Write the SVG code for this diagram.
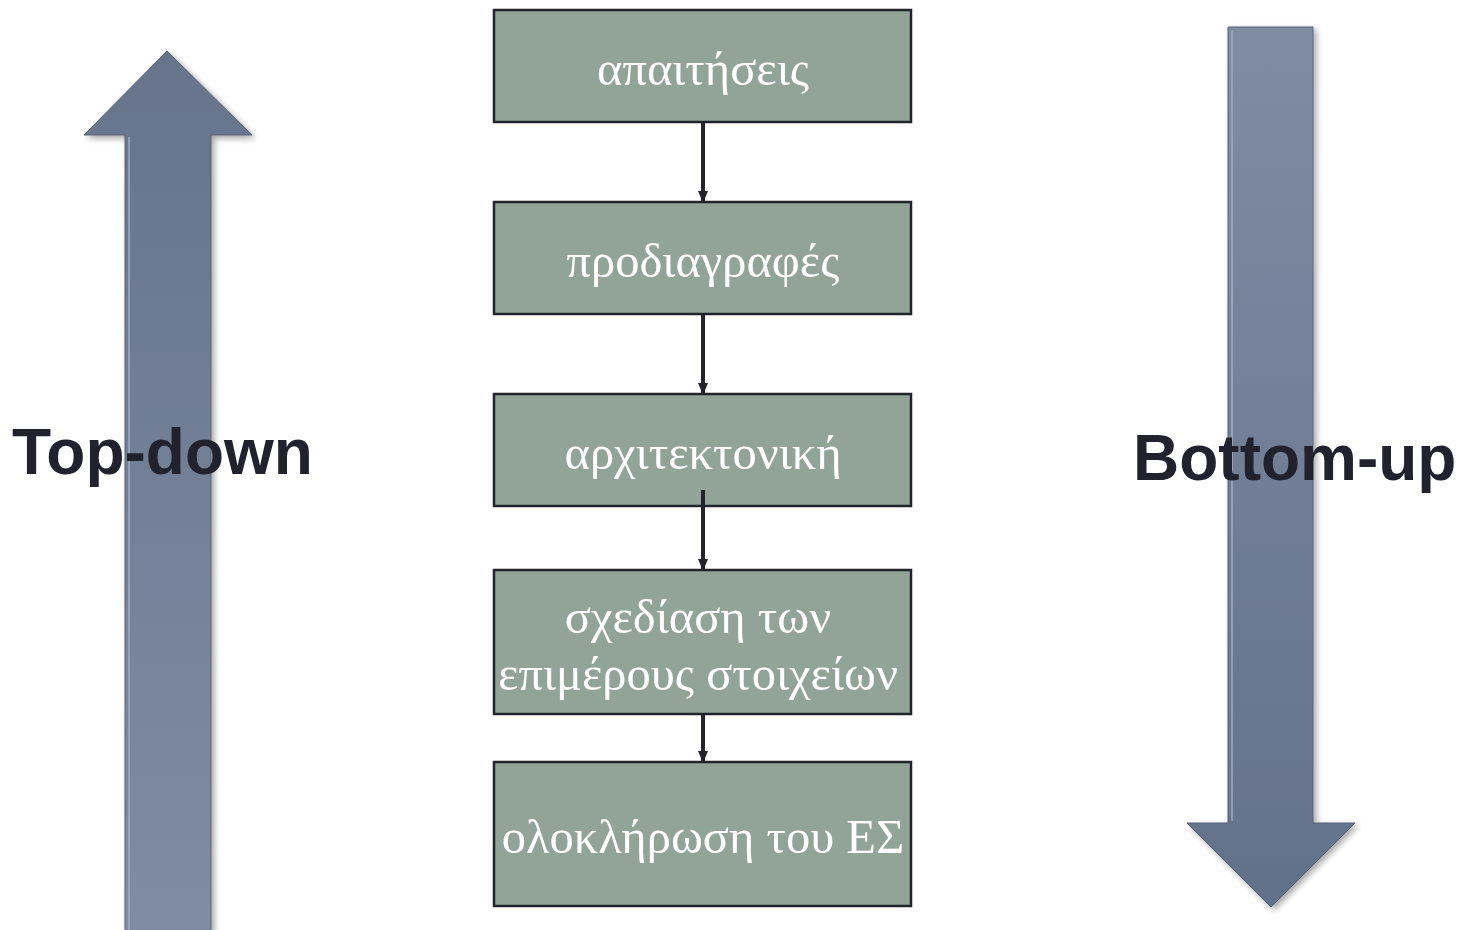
<svg xmlns="http://www.w3.org/2000/svg" width="1458" height="930" viewBox="0 0 1458 930">
<style>
.box{fill:#92a398;stroke:#23232b;stroke-width:2.5}
.lbl{font-family:"Liberation Serif","Times New Roman",serif;font-size:48.5px;fill:#ffffff;text-anchor:middle}
.side{font-family:"Liberation Sans",Arial,sans-serif;font-size:64px;font-weight:bold;fill:#22222e}
.conn{stroke:#23232b;stroke-width:4;fill:none}
</style>
<defs>
<linearGradient id="gUp" x1="0" y1="0" x2="0" y2="1">
<stop offset="0" stop-color="#66748c"/><stop offset="1" stop-color="#7f8ca1"/>
</linearGradient>
<linearGradient id="gDown" x1="0" y1="0" x2="0" y2="1">
<stop offset="0" stop-color="#7f8ca1"/><stop offset="1" stop-color="#63718a"/>
</linearGradient>
<filter id="sh" x="-20%" y="-5%" width="140%" height="110%">
<feGaussianBlur in="SourceAlpha" stdDeviation="3"/>
<feOffset dx="3" dy="3" result="b"/>
<feComponentTransfer><feFuncA type="linear" slope="0.35"/></feComponentTransfer>
<feMerge><feMergeNode/><feMergeNode in="SourceGraphic"/></feMerge>
</filter>
<marker id="ah" markerWidth="12" markerHeight="10" refX="10" refY="5" orient="auto" markerUnits="userSpaceOnUse">
<path d="M0,0 L12,5 L0,10 Z" fill="#23232b"/>
</marker>
</defs>

<g id="arrow-topdown">
<path d="M167,51 L252,135 L211,135 L211,932 L125,932 L125,135 L84,135 Z" fill="url(#gUp)" stroke="#56627a" stroke-width="1" filter="url(#sh)"/>
<path d="M129,137 L129,930" stroke="#a5b1c4" stroke-width="2" opacity="0.7"/>
</g>
<g id="arrow-bottomup">
<path d="M1228,27 L1313,27 L1313,823 L1355,823 L1271,907 L1187,823 L1228,823 Z" fill="url(#gDown)" stroke="#56627a" stroke-width="1" filter="url(#sh)"/>
<path d="M1232,31 L1232,821" stroke="#a5b1c4" stroke-width="2" opacity="0.7"/>
</g>

<g id="connectors">
<line class="conn" x1="703" y1="122" x2="703" y2="201" marker-end="url(#ah)"/>
<line class="conn" x1="703" y1="314" x2="703" y2="393" marker-end="url(#ah)"/>
<line class="conn" x1="703" y1="490" x2="703" y2="569" marker-end="url(#ah)"/>
<line class="conn" x1="703" y1="714" x2="703" y2="761" marker-end="url(#ah)"/>
</g>

<g id="n1"><rect class="box" x="494" y="10" width="417" height="112"/><text class="lbl" x="703" y="85">απαιτήσεις</text></g>
<g id="n2"><rect class="box" x="494" y="202" width="417" height="112"/><text class="lbl" x="703" y="277">προδιαγραφές</text></g>
<g id="n3"><rect class="box" x="494" y="394" width="417" height="112"/><text class="lbl" x="703" y="469">αρχιτεκτονική</text></g>
<line class="conn" x1="703" y1="490" x2="703" y2="506"/>
<g id="n4"><rect class="box" x="494" y="570" width="417" height="144"/><text class="lbl" x="698" y="633">σχεδίαση των</text><text class="lbl" x="698" y="690">επιμέρους στοιχείων</text></g>
<g id="n5"><rect class="box" x="494" y="762" width="417" height="144"/><text class="lbl" x="703" y="853">ολοκλήρωση του ΕΣ</text></g>

<text class="side" x="12" y="474">Top-down</text>
<text class="side" x="1133" y="480">Bottom-up</text>
</svg>
